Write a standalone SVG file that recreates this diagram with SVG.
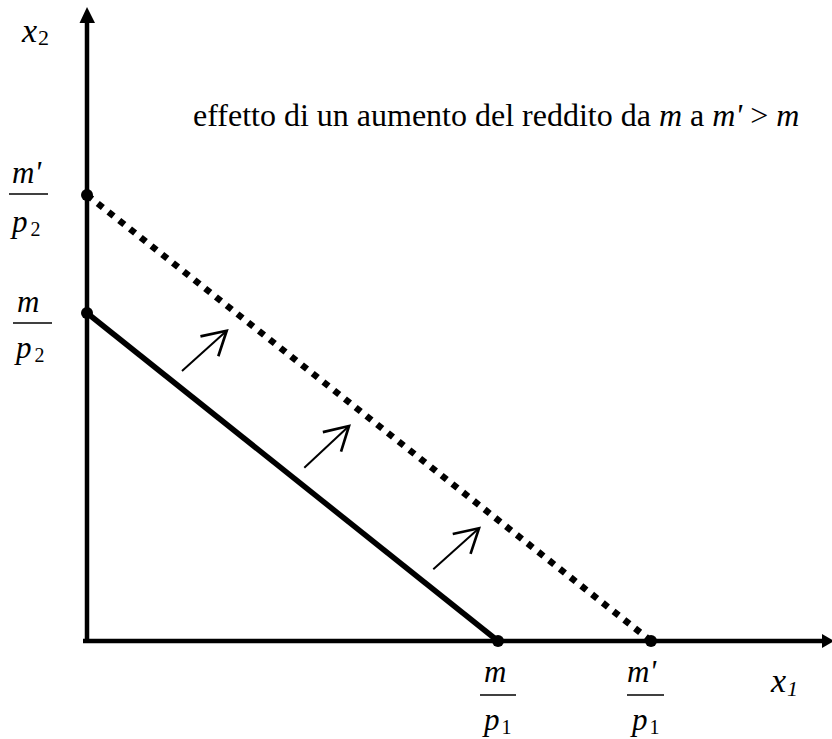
<svg xmlns="http://www.w3.org/2000/svg" width="832" height="739" viewBox="0 0 832 739">
<style>
text{font-family:"Liberation Serif","Times New Roman",serif;fill:#000}
.lbl{font-size:31px}
.big{font-size:34px}
.title{font-size:32px}
.it{font-style:italic}
.sub{font-size:20px;font-style:normal}
.xsub{font-size:22px}
.ax{stroke:#000;stroke-width:4.5;fill:none}
.bar{stroke:#000;stroke-width:1.5}
.small{stroke:#000;stroke-width:2;fill:none}
</style>
<defs>
<marker id="open" markerUnits="userSpaceOnUse" markerWidth="40" markerHeight="40" viewBox="-25 -15 30 30" refX="0" refY="0" orient="auto">
<path d="M-17.5,-10 L0,0 L-17.5,10" fill="none" stroke="#000" stroke-width="2"/>
</marker>
</defs>
<rect width="832" height="739" fill="#fff"/>
<g id="axes">
<line class="ax" x1="87" y1="643" x2="87" y2="20"/>
<polygon points="87,7 79.5,23 95,23" fill="#000"/>
<line class="ax" x1="83" y1="641" x2="822" y2="641"/>
<polygon points="834,641 822,634 822,648" fill="#000"/>
</g>
<g id="connectors">
<line id="budget-m" x1="87" y1="313" x2="498" y2="641" stroke="#000" stroke-width="5.5"/>
<line id="budget-m2" x1="87" y1="195" x2="651" y2="641" stroke="#000" stroke-width="6.5" stroke-dasharray="6.5 7.2"/>
<line class="small" x1="182" y1="371" x2="226.7" y2="330.7" marker-end="url(#open)"/>
<line class="small" x1="304.3" y1="467.7" x2="349" y2="426" marker-end="url(#open)"/>
<line class="small" x1="433.3" y1="569.3" x2="479" y2="528.3" marker-end="url(#open)"/>
</g>
<g id="dot-mp2p"><circle cx="87" cy="195" r="6"/></g>
<g id="dot-mp2"><circle cx="87" cy="313" r="6"/></g>
<g id="dot-mp1"><circle cx="498" cy="641" r="6"/></g>
<g id="dot-mp1p"><circle cx="651" cy="641" r="6"/></g>
<g id="label-x2">
<text class="big it" x="22" y="42">x<tspan class="xsub" style="font-style:normal" dx="1" dy="3">2</tspan></text>
</g>
<g id="label-x1">
<text class="big it" x="771" y="692">x<tspan class="xsub" style="font-style:italic" dx="1" dy="4">1</tspan></text>
</g>
<g id="label-mp2p">
<text class="lbl it" x="12" y="183">m'</text>
<line class="bar" x1="9" y1="194" x2="48" y2="194"/>
<text class="lbl it" x="12" y="232">p<tspan class="sub" dx="3" dy="4">2</tspan></text>
</g>
<g id="label-mp2">
<text class="lbl it" x="17" y="312">m</text>
<line class="bar" x1="13" y1="323" x2="52" y2="323"/>
<text class="lbl it" x="16" y="358">p<tspan class="sub" dx="3" dy="4">2</tspan></text>
</g>
<g id="label-mp1">
<text class="lbl it" x="484" y="682">m</text>
<line class="bar" x1="480" y1="695" x2="516" y2="695"/>
<text class="lbl it" x="484" y="730">p<tspan class="sub" dx="2" dy="4">1</tspan></text>
</g>
<g id="label-mp1p">
<text class="lbl it" x="627" y="682">m'</text>
<line class="bar" x1="627" y1="695" x2="664" y2="695"/>
<text class="lbl it" x="632" y="730">p<tspan class="sub" dx="2" dy="4">1</tspan></text>
</g>
<g id="title">
<text class="title" x="193" y="126">effetto di un aumento del reddito da <tspan class="it">m</tspan> a <tspan class="it">m'</tspan> &gt; <tspan class="it">m</tspan></text>
</g>
</svg>
